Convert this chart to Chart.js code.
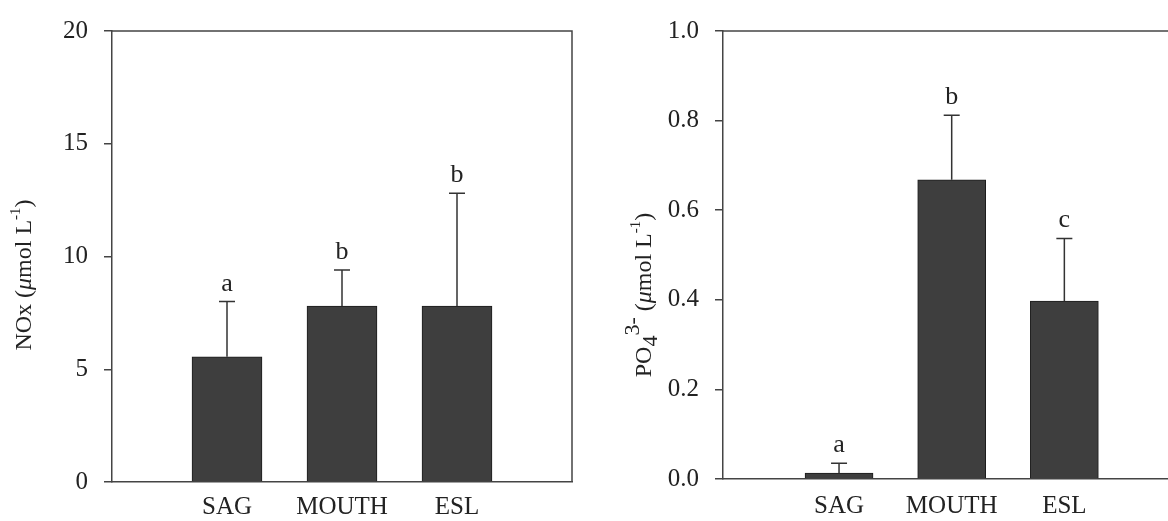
<!DOCTYPE html>
<html><head><meta charset="utf-8">
<script src="https://cdn.jsdelivr.net/npm/chart.js@4/dist/chart.umd.min.js"></script>
<style>
html,body{margin:0;padding:0;background:#fff;overflow:hidden;}
#wrap{position:relative;width:1168px;height:521px;}
#c1{position:absolute;left:0;top:0;}
#c2{position:absolute;left:590px;top:0;}
</style></head><body>
<div id="wrap"><canvas id="c1" width="590" height="521"></canvas><canvas id="c2" width="578" height="521"></canvas></div>
<script>
// ---- data ----
const categories = ['SAG', 'MOUTH', 'ESL'];
const noxMeans = [5.55, 7.8, 7.8];
const noxErrTop = [8.0, 9.4, 12.8];
const noxLetters = ['a', 'b', 'b'];
const noxTicks = [0, 5, 10, 15, 20];
const po4Means = [0.013, 0.668, 0.397];
const po4ErrTop = [0.035, 0.812, 0.537];
const po4Letters = ['a', 'b', 'c'];
const po4Ticks = [0, 0.2, 0.4, 0.6, 0.8, 1.0];

const FONT = 'Liberation Serif';
const INK = '#222';
const AXIS = '#444';

function titleSegments(kind) {
  const n = '24px "' + FONT + '"';
  const it = 'italic 24px "' + FONT + '"';
  const sup = '15px "' + FONT + '"';
  if (kind === 'nox') {
    return [
      {t: 'NOx (', f: n, dy: 0},
      {t: '\u03bc', f: it, dy: 0},
      {t: 'mol L', f: n, dy: 0},
      {t: '-1', f: sup, dy: -9},
      {t: ')', f: n, dy: 0}
    ];
  }
  return [
    {t: 'PO', f: n, dy: 0},
    {t: '4', f: '22px "' + FONT + '"', dy: 6},
    {t: '3-', f: '22px "' + FONT + '"', dy: -12},
    {t: ' (', f: n, dy: 0},
    {t: '\u03bc', f: it, dy: 0},
    {t: 'mol L', f: n, dy: 0},
    {t: '-1', f: sup, dy: -9},
    {t: ')', f: n, dy: 0}
  ];
}

function makePlugin(means, errTop, letters, opts) {
  return {
    id: 'extras',
    afterDatasetsDraw(chart) {
      const ctx = chart.ctx;
      const xs = chart.scales.x, ys = chart.scales.y;
      const ca = chart.chartArea;
      ctx.save();
      // frame
      ctx.strokeStyle = AXIS;
      ctx.lineWidth = 1.5;
      ctx.beginPath();
      ctx.moveTo(ca.left, ca.top);
      ctx.lineTo(ca.right, ca.top);
      if (opts.rightBorder) ctx.lineTo(ca.right, ca.bottom);
      ctx.stroke();
      // error bars + letters
      ctx.strokeStyle = '#333';
      ctx.lineWidth = 1.5;
      ctx.fillStyle = INK;
      ctx.font = '26px "' + FONT + '"';
      ctx.textAlign = 'center';
      ctx.textBaseline = 'alphabetic';
      for (let i = 0; i < means.length; i++) {
        const x = xs.getPixelForValue(i + 1);
        const yb = ys.getPixelForValue(means[i]);
        const yt = ys.getPixelForValue(errTop[i]);
        ctx.beginPath();
        ctx.moveTo(x, yb);
        ctx.lineTo(x, yt);
        ctx.moveTo(x - 8, yt);
        ctx.lineTo(x + 8, yt);
        ctx.stroke();
        ctx.fillText(letters[i], x, yt - 11);
      }
      // y title
      const segs = titleSegments(opts.title);
      let total = 0;
      segs.forEach(s => { ctx.font = s.f; s.w = ctx.measureText(s.t).width; total += s.w; });
      ctx.translate(opts.titleX, opts.titleY);
      ctx.rotate(-Math.PI / 2);
      ctx.textAlign = 'left';
      ctx.textBaseline = 'middle';
      let pos = -total / 2;
      segs.forEach(s => {
        ctx.font = s.f;
        ctx.fillText(s.t, pos, s.dy);
        pos += s.w;
      });
      ctx.restore();
    }
  };
}

function makeChart(canvasId, means, errTop, letters, ticks, cfg) {
  return new Chart(document.getElementById(canvasId), {
    type: 'bar',
    data: {
      datasets: [{
        data: categories.map((c, i) => ({x: i + 1, y: means[i]})),
        backgroundColor: '#3e3e3e',
        borderColor: '#1c1c1c',
        borderWidth: 1,
        barThickness: cfg.barThickness
      }]
    },
    options: {
      responsive: false,
      animation: false,
      devicePixelRatio: 1,
      layout: {padding: {top: cfg.top, left: 0, right: cfg.right, bottom: 0}},
      plugins: {legend: {display: false}, tooltip: {enabled: false}},
      scales: {
        x: {
          type: 'linear',
          offset: false,
          bounds: 'ticks',
          min: cfg.xmin, max: cfg.xmax,
          afterBuildTicks: s => { s.ticks = categories.map((c, i) => ({value: i + 1})); },
          afterFit: s => { s.height = cfg.xHeight; },
          ticks: {
            callback: v => categories[Math.round(v) - 1] || '',
            font: {family: FONT, size: 25},
            color: INK,
            padding: cfg.xPad,
            maxRotation: 0,
            autoSkip: false
          },
          grid: {display: false, drawTicks: false, offset: false},
          border: {display: true, color: AXIS, width: 1.5}
        },
        y: {
          min: ticks[0], max: ticks[ticks.length - 1],
          afterBuildTicks: s => { s.ticks = ticks.map(v => ({value: v})); },
          afterFit: s => { s.width = cfg.yWidth; },
          ticks: {
            callback: cfg.fmt,
            font: {family: FONT, size: 25},
            color: INK,
            padding: 16
          },
          grid: {drawOnChartArea: false, drawTicks: true, tickLength: 8, color: AXIS, lineWidth: 1.5},
          border: {display: true, color: AXIS, width: 1.5}
        }
      }
    },
    plugins: [makePlugin(means, errTop, letters, cfg)]
  });
}

makeChart('c1', noxMeans, noxErrTop, noxLetters, noxTicks, {
  top: 23, right: 18, xHeight: 39, yWidth: 112, xmin: 0, xmax: 4, xPad: 10,
  barThickness: 70, fmt: v => String(v), rightBorder: true,
  title: 'nox', titleX: 25, titleY: 275
});
makeChart('c2', po4Means, po4ErrTop, po4Letters, po4Ticks, {
  top: 21, right: 0, xHeight: 42, yWidth: 133, xmin: -0.03, xmax: 3.92, xPad: 12,
  barThickness: 68, fmt: v => v.toFixed(1), rightBorder: false,
  title: 'po4', titleX: 55, titleY: 295
});
</script>
</body></html>
